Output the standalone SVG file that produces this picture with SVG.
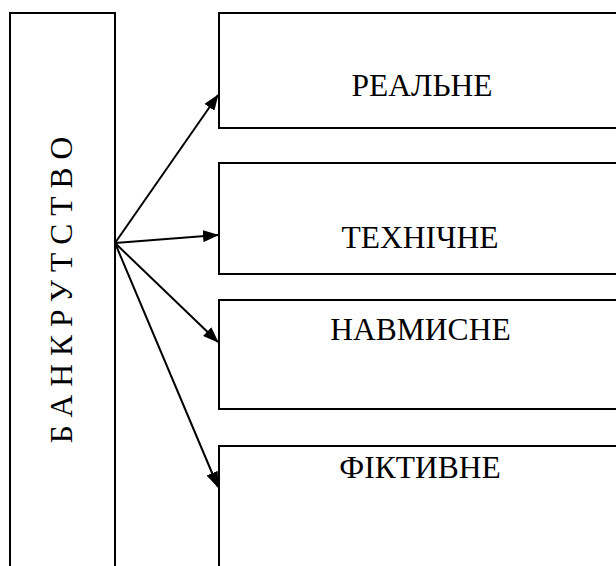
<svg xmlns="http://www.w3.org/2000/svg" width="616" height="566" viewBox="0 0 616 566">
  <style>
    .box { fill: #fff; stroke: #000; stroke-width: 2; }
    .lbl { font-family: "Liberation Serif", "Times New Roman", serif; font-size: 31.5px; fill: #000; text-anchor: middle; }
    .edge { stroke: #000; stroke-width: 2; fill: none; marker-end: url(#head); }
  </style>
  <defs>
    <marker id="head" markerWidth="16" markerHeight="12" refX="15" refY="6" orient="auto" markerUnits="userSpaceOnUse">
      <path d="M0,0 L16,6 L0,12 Z" fill="#000"/>
    </marker>
  </defs>
  <rect width="616" height="566" fill="#fff"/>

  <g id="bankrutstvo">
    <rect class="box" x="10" y="13" width="105" height="570"/>
    <text class="lbl" transform="translate(72,286) rotate(-90)" letter-spacing="8">БАНКРУТСТВО</text>
  </g>

  <g id="realne">
    <rect class="box" x="219" y="13" width="410" height="115"/>
    <text class="lbl" x="422" y="96">РЕАЛЬНЕ</text>
  </g>

  <g id="tekhnichne">
    <rect class="box" x="219" y="163" width="410" height="111"/>
    <text class="lbl" x="420" y="248">ТЕХНІЧНЕ</text>
  </g>

  <g id="navmysne">
    <rect class="box" x="219" y="300" width="410" height="109"/>
    <text class="lbl" x="420.5" y="340">НАВМИСНЕ</text>
  </g>

  <g id="fiktyvne">
    <rect class="box" x="219" y="446" width="410" height="140"/>
    <text class="lbl" x="420" y="478">ФІКТИВНЕ</text>
  </g>

  <g id="connectors">
    <line class="edge" x1="115" y1="243" x2="218" y2="95"/>
    <line class="edge" x1="115" y1="243" x2="218" y2="235"/>
    <line class="edge" x1="115" y1="243" x2="218" y2="342"/>
    <line class="edge" x1="115" y1="243" x2="218" y2="487"/>
  </g>
</svg>
